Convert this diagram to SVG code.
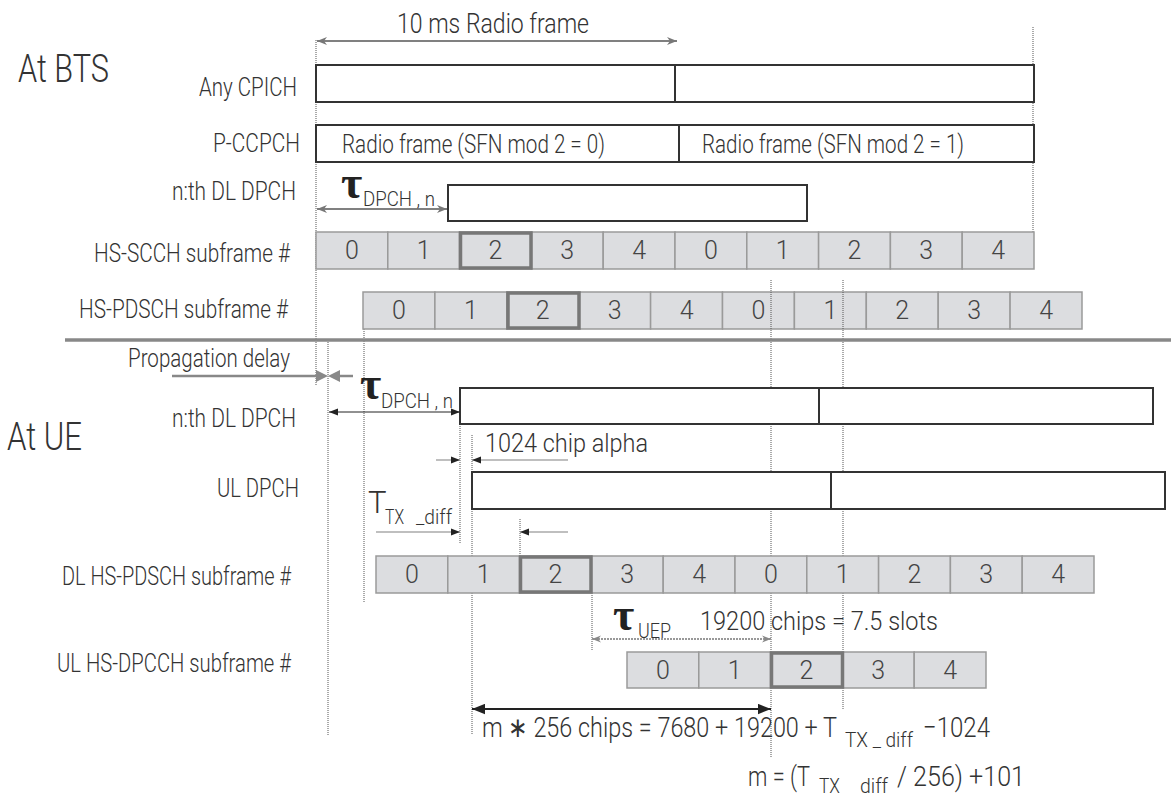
<svg xmlns="http://www.w3.org/2000/svg" width="1171" height="796" viewBox="0 0 1171 796">
<style>
.t{font-family:Roboto,"Liberation Sans",sans-serif;font-weight:300;fill:#333}
.lbl{font-size:25px;text-anchor:end}
.big{font-size:38px}
.num{font-size:25px;text-anchor:middle;fill:#444}
.sub{font-size:21px}
.tau{font-family:"Liberation Serif",serif;font-weight:bold;font-size:46px;fill:#222}
.bar{fill:#fff;stroke:#333;stroke-width:2}
.cell{fill:#dcdde0;stroke:#9a9a9a;stroke-width:1.5}
.hl{fill:none;stroke:#777;stroke-width:3.5}
.dot{stroke:#555;stroke-width:1;stroke-dasharray:1 1;fill:none}
.ga{stroke:#808080;stroke-width:2;fill:none}
.la{stroke:#aaa;stroke-width:1.5;fill:none}
.ba{stroke:#222;stroke-width:1;fill:none}
</style>
<defs>
<marker id="mg" viewBox="0 0 10 8" refX="10" refY="4" markerWidth="11" markerHeight="8" markerUnits="userSpaceOnUse" orient="auto-start-reverse"><path d="M0,0 L10,4 L0,8 L3,4 z" fill="#777"/></marker>
<marker id="mb" viewBox="0 0 10 8" refX="10" refY="4" markerWidth="9" markerHeight="8" markerUnits="userSpaceOnUse" orient="auto-start-reverse"><path d="M0,0 L10,4 L0,8 z" fill="#222"/></marker>
<marker id="mb2" viewBox="0 0 10 8" refX="10" refY="4" markerWidth="13" markerHeight="11" markerUnits="userSpaceOnUse" orient="auto-start-reverse"><path d="M0,0 L10,4 L0,8 z" fill="#222"/></marker>
<marker id="mgd" viewBox="0 0 10 8" refX="10" refY="4" markerWidth="9" markerHeight="8" markerUnits="userSpaceOnUse" orient="auto-start-reverse"><path d="M0,0 L10,4 L0,8 L3,4 z" fill="#888"/></marker>
</defs>
<rect width="1171" height="796" fill="#fff"/>

<!-- guide lines -->
<g id="guides">
<line class="dot" x1="316" y1="40" x2="316" y2="386"/>
<line class="dot" x1="1033" y1="27" x2="1033" y2="232"/>
<line class="dot" x1="328" y1="342" x2="328" y2="735"/>
<line class="dot" x1="364" y1="329" x2="364" y2="602"/>
<line class="dot" x1="460" y1="424" x2="460" y2="543"/>
<line class="dot" x1="472" y1="435" x2="472" y2="556"/>
<line class="dot" x1="472" y1="593" x2="472" y2="735"/>
<line class="dot" x1="520" y1="519" x2="520" y2="556"/>
<line class="dot" x1="592" y1="593" x2="592" y2="650"/>
<line class="dot" x1="771" y1="424" x2="771" y2="472"/>
<line class="dot" x1="771" y1="509" x2="771" y2="556"/>
<line class="dot" x1="771" y1="593" x2="771" y2="652"/>
<line class="dot" x1="771" y1="688" x2="771" y2="757"/>
<line class="dot" x1="843" y1="424" x2="843" y2="472"/>
<line class="dot" x1="843" y1="509" x2="843" y2="556"/>
<line class="dot" x1="843" y1="593" x2="843" y2="652"/>
<line class="dot" x1="843" y1="688" x2="843" y2="710"/>
</g>

<!-- labels -->
<g id="labels">
<text class="t big" x="18" y="82" textLength="91" lengthAdjust="spacingAndGlyphs">At BTS</text>
<text class="t big" x="7" y="450" textLength="75" lengthAdjust="spacingAndGlyphs">At UE</text>
<text class="t lbl" x="297" y="96" textLength="98" lengthAdjust="spacingAndGlyphs">Any CPICH</text>
<text class="t lbl" x="300" y="152" textLength="87" lengthAdjust="spacingAndGlyphs">P-CCPCH</text>
<text class="t lbl" x="296" y="200" textLength="124" lengthAdjust="spacingAndGlyphs">n:th DL DPCH</text>
<text class="t lbl" x="290" y="262" textLength="196" lengthAdjust="spacingAndGlyphs">HS-SCCH subframe #</text>
<text class="t lbl" x="288" y="318" textLength="209" lengthAdjust="spacingAndGlyphs">HS-PDSCH subframe #</text>
<text class="t lbl" x="290" y="367" textLength="162" lengthAdjust="spacingAndGlyphs">Propagation delay</text>
<text class="t lbl" x="296" y="427" textLength="124" lengthAdjust="spacingAndGlyphs">n:th DL DPCH</text>
<text class="t lbl" x="299" y="497" textLength="82" lengthAdjust="spacingAndGlyphs">UL DPCH</text>
<text class="t lbl" x="291" y="585" textLength="229" lengthAdjust="spacingAndGlyphs">DL HS-PDSCH subframe #</text>
<text class="t lbl" x="291" y="672" textLength="234" lengthAdjust="spacingAndGlyphs">UL HS-DPCCH subframe #</text>
</g>

<!-- BTS bars -->
<g id="bts-cpich">
<rect class="bar" x="316" y="65" width="718" height="37"/>
<line x1="675" y1="65" x2="675" y2="102" stroke="#333" stroke-width="2"/>
</g>
<g id="bts-pccpch">
<rect class="bar" x="316" y="125" width="718" height="37"/>
<line x1="679" y1="125" x2="679" y2="162" stroke="#333" stroke-width="2"/>
<text class="t" font-size="25" x="342" y="153" textLength="263" lengthAdjust="spacingAndGlyphs">Radio frame (SFN mod 2 = 0)</text>
<text class="t" font-size="25" x="702" y="153" textLength="262" lengthAdjust="spacingAndGlyphs">Radio frame (SFN mod 2 = 1)</text>
</g>
<g id="bts-dpch">
<rect class="bar" x="448" y="185" width="359" height="36"/>
</g>

<g id="hs-scch">
<rect class="cell" x="316" y="232" width="71.8" height="37"/><text class="t num" x="351.9" y="259">0</text>
<rect class="cell" x="387.8" y="232" width="71.8" height="37"/><text class="t num" x="423.7" y="259">1</text>
<rect class="cell" x="459.6" y="232" width="71.8" height="37"/><text class="t num" x="495.5" y="259">2</text>
<rect class="cell" x="531.4" y="232" width="71.8" height="37"/><text class="t num" x="567.3" y="259">3</text>
<rect class="cell" x="603.2" y="232" width="71.8" height="37"/><text class="t num" x="639.1" y="259">4</text>
<rect class="cell" x="675" y="232" width="71.8" height="37"/><text class="t num" x="710.9" y="259">0</text>
<rect class="cell" x="746.8" y="232" width="71.8" height="37"/><text class="t num" x="782.7" y="259">1</text>
<rect class="cell" x="818.6" y="232" width="71.8" height="37"/><text class="t num" x="854.5" y="259">2</text>
<rect class="cell" x="890.4" y="232" width="71.8" height="37"/><text class="t num" x="926.3" y="259">3</text>
<rect class="cell" x="962.2" y="232" width="71.8" height="37"/><text class="t num" x="998.1" y="259">4</text>
<rect class="hl" x="460.5" y="233" width="70.5" height="35"/>
</g>

<g id="hs-pdsch-bts">
<rect class="cell" x="363" y="292" width="71.9" height="37"/><text class="t num" x="399" y="319">0</text>
<rect class="cell" x="434.9" y="292" width="71.9" height="37"/><text class="t num" x="470.9" y="319">1</text>
<rect class="cell" x="506.8" y="292" width="71.9" height="37"/><text class="t num" x="542.8" y="319">2</text>
<rect class="cell" x="578.7" y="292" width="71.9" height="37"/><text class="t num" x="614.7" y="319">3</text>
<rect class="cell" x="650.6" y="292" width="71.9" height="37"/><text class="t num" x="686.6" y="319">4</text>
<rect class="cell" x="722.5" y="292" width="71.9" height="37"/><text class="t num" x="758.5" y="319">0</text>
<rect class="cell" x="794.4" y="292" width="71.9" height="37"/><text class="t num" x="830.4" y="319">1</text>
<rect class="cell" x="866.3" y="292" width="71.9" height="37"/><text class="t num" x="902.3" y="319">2</text>
<rect class="cell" x="938.2" y="292" width="71.9" height="37"/><text class="t num" x="974.2" y="319">3</text>
<rect class="cell" x="1010.1" y="292" width="71.9" height="37"/><text class="t num" x="1046.1" y="319">4</text>
<rect class="hl" x="508" y="293" width="71" height="35"/>
<line class="dot" x1="771" y1="280" x2="771" y2="388"/>
<line class="dot" x1="843" y1="280" x2="843" y2="388"/>
</g>

<g id="separator">
<line x1="65" y1="340" x2="1171" y2="340" stroke="#888" stroke-width="3.5"/>
</g>

<!-- UE bars -->
<g id="ue-dpch">
<rect class="bar" x="460" y="388" width="693" height="36"/>
<line x1="819" y1="388" x2="819" y2="424" stroke="#333" stroke-width="2"/>
</g>
<g id="ue-ul-dpch">
<rect class="bar" x="472" y="472" width="693" height="37"/>
<line x1="831" y1="472" x2="831" y2="509" stroke="#333" stroke-width="2"/>
</g>

<g id="dl-hs-pdsch-ue">
<rect class="cell" x="376" y="556" width="71.8" height="37"/><text class="t num" x="411.9" y="583">0</text>
<rect class="cell" x="447.8" y="556" width="71.8" height="37"/><text class="t num" x="483.7" y="583">1</text>
<rect class="cell" x="519.6" y="556" width="71.8" height="37"/><text class="t num" x="555.5" y="583">2</text>
<rect class="cell" x="591.4" y="556" width="71.8" height="37"/><text class="t num" x="627.3" y="583">3</text>
<rect class="cell" x="663.2" y="556" width="71.8" height="37"/><text class="t num" x="699.1" y="583">4</text>
<rect class="cell" x="735" y="556" width="71.8" height="37"/><text class="t num" x="770.9" y="583">0</text>
<rect class="cell" x="806.8" y="556" width="71.8" height="37"/><text class="t num" x="842.7" y="583">1</text>
<rect class="cell" x="878.6" y="556" width="71.8" height="37"/><text class="t num" x="914.5" y="583">2</text>
<rect class="cell" x="950.4" y="556" width="71.8" height="37"/><text class="t num" x="986.3" y="583">3</text>
<rect class="cell" x="1022.2" y="556" width="71.8" height="37"/><text class="t num" x="1058.1" y="583">4</text>
<rect class="hl" x="520.5" y="557" width="70.5" height="35"/>
</g>

<g id="ul-hs-dpcch">
<rect class="cell" x="627" y="652" width="71.8" height="36"/><text class="t num" x="662.9" y="679">0</text>
<rect class="cell" x="698.8" y="652" width="71.8" height="36"/><text class="t num" x="734.7" y="679">1</text>
<rect class="cell" x="770.6" y="652" width="71.8" height="36"/><text class="t num" x="806.5" y="679">2</text>
<rect class="cell" x="842.4" y="652" width="71.8" height="36"/><text class="t num" x="878.3" y="679">3</text>
<rect class="cell" x="914.2" y="652" width="71.8" height="36"/><text class="t num" x="950.1" y="679">4</text>
<rect class="hl" x="771.5" y="653" width="71" height="34"/>
</g>

<!-- connectors -->
<g id="connectors">
<line class="ga" x1="317" y1="41" x2="677" y2="41" marker-start="url(#mg)" marker-end="url(#mg)"/>
<line class="ga" x1="317" y1="209" x2="447" y2="209" marker-start="url(#mg)" marker-end="url(#mg)"/>
<line x1="172" y1="376" x2="318" y2="376" stroke="#888" stroke-width="2.5"/>
<polygon points="316,370 328,376 316,382" fill="#888"/>
<line x1="338" y1="376" x2="353" y2="376" stroke="#888" stroke-width="2.5"/>
<polygon points="340,370 328,376 340,382" fill="#888"/>
<line class="ba" x1="329" y1="412" x2="460" y2="412" marker-start="url(#mb)" marker-end="url(#mb)"/>
<line class="la" x1="436" y1="460" x2="460" y2="460" marker-end="url(#mb)"/>
<line class="la" x1="568" y1="460" x2="472" y2="460" marker-end="url(#mb)"/>
<line class="la" x1="376" y1="532" x2="460" y2="532" marker-end="url(#mb)"/>
<line class="la" x1="568" y1="532" x2="520" y2="532" marker-end="url(#mb)"/>
<line x1="592" y1="639" x2="771" y2="639" stroke="#999" stroke-width="2" stroke-dasharray="2 1" marker-start="url(#mgd)" marker-end="url(#mgd)"/>
<line x1="472" y1="709" x2="771" y2="709" stroke="#222" stroke-width="2" marker-start="url(#mb2)" marker-end="url(#mb2)"/>
</g>

<!-- annotation texts -->
<g id="annotations">
<text class="t" font-size="27" x="397" y="33" textLength="192" lengthAdjust="spacingAndGlyphs">10 ms Radio frame</text>
<text class="tau" x="341" y="198">τ</text>
<text class="t sub" x="363" y="206" textLength="72" lengthAdjust="spacingAndGlyphs">DPCH , n</text>
<text class="tau" x="360" y="399">τ</text>
<text class="t sub" x="381" y="408" textLength="72" lengthAdjust="spacingAndGlyphs">DPCH , n</text>
<text class="t" font-size="26" x="485" y="452" textLength="163" lengthAdjust="spacingAndGlyphs">1024 chip alpha</text>
<text class="t" font-size="31" x="368" y="513">T</text>
<text class="t sub" x="385" y="524" textLength="19" lengthAdjust="spacingAndGlyphs">TX</text>
<text class="t sub" x="416" y="524" textLength="36" lengthAdjust="spacingAndGlyphs">_diff</text>
<text class="tau" x="613" y="630">τ</text>
<text class="t sub" x="638" y="638" textLength="33" lengthAdjust="spacingAndGlyphs">UEP</text>
<text class="t" font-size="26" x="700" y="630" textLength="238" lengthAdjust="spacingAndGlyphs">19200 chips = 7.5 slots</text>
<text class="t" font-size="28" x="482" y="737" textLength="355" lengthAdjust="spacingAndGlyphs">m ∗ 256 chips = 7680 + 19200 + T</text>
<text class="t sub" x="845" y="747" textLength="68" lengthAdjust="spacingAndGlyphs">TX _ diff</text>
<text class="t" font-size="28" x="923" y="737" textLength="67" lengthAdjust="spacingAndGlyphs">−1024</text>
<text class="t" font-size="28" x="748" y="786" textLength="62" lengthAdjust="spacingAndGlyphs">m = (T</text>
<text class="t sub" x="819" y="793" textLength="21" lengthAdjust="spacingAndGlyphs">TX</text>
<text class="t sub" x="860" y="793" textLength="28" lengthAdjust="spacingAndGlyphs">diff</text>
<text class="t" font-size="28" x="897" y="786" textLength="128" lengthAdjust="spacingAndGlyphs">/ 256)  +101</text>
</g>
</svg>
